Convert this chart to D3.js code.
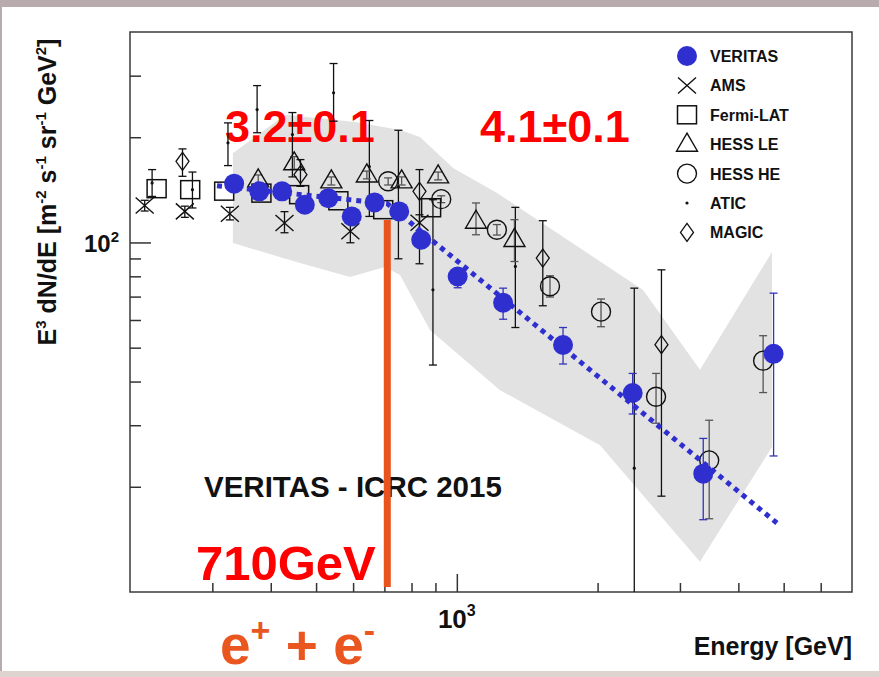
<!DOCTYPE html>
<html>
<head>
<meta charset="utf-8">
<script src="https://cdn.jsdelivr.net/npm/d3@7"></script>
<style>
  body { margin: 0; background: #fff; }
  svg { display: block; font-family: "Liberation Sans", Arial, sans-serif; }
</style>
</head>
<body>
<svg id="canvas" width="879" height="677"></svg>
<script>
// ---------------------------------------------------------------- //
// Data (energy in GeV, E^3 dN/dE)

var veritas_E  = [334, 378, 423, 473, 531, 596, 667, 753, 839, 1004, 1256, 1687, 2377, 3365, 4758];
var veritas_F  = [147.3, 140, 140, 128.2, 133.9, 118.7, 130.2, 122.7, 101.8, 79.9, 67.2, 50.9, 37.1, 21.8, 48.0];
var veritas_lo = [143, 136, 136, 124, 130, 115, 126, 118, 97, 74.2, 60.3, 44.9, 32.3, 16.1, 24.5];
var veritas_hi = [152, 144, 144, 132, 138, 122, 134, 127, 107, 83.5, 74.0, 57.1, 42.2, 27.5, 71.6];

var ams_E  = [215, 262, 327, 428, 592, 832];
var ams_F  = [127.6, 122.7, 120.8, 113.6, 107.7, 113.9];
var ams_lo = [123, 118, 116, 106.6, 99.8, 108];
var ams_hi = [132, 127, 126, 122.5, 114, 120];

var fermi_E = [228, 269, 318, 382, 460, 558, 696, 881];
var fermi_F = [142.5, 141.6, 140.2, 138.4, 137, 131.6, 124.1, 125.7];

var hessLE_E  = [376, 449, 539, 642, 762, 912, 1099, 1328];
var hessLE_F  = [151, 169, 150, 156, 150, 155, 115, 102];
var hessLE_lo = [146, 162, 146, 152, 146, 151, 105.2, 88.2];
var hessLE_hi = [156, 176, 154, 160, 154, 159, 129.7, 116.2];

var hessHE_E  = [713, 926, 1218, 1582, 2034, 2667, 3465, 4519];
var hessHE_F  = [149.6, 133, 108.7, 74.9, 63.4, 36.2, 23.8, 45.9];
var hessHE_lo = [146, 130, 105, 69.8, 57.4, 30.4, 16.2, 37.2];
var hessHE_hi = [153, 136, 112.5, 80.3, 68.9, 42.2, 31.0, 54.1];

var atic_E  = [223, 272, 324, 374, 445, 545, 650, 750, 889, 1334, 2396];
var atic_F  = [148, 141.6, 192.7, 240, 203.5, 268, 164.8, 144.4, 73.2, 85.4, 22.6];
var atic_lo = [135.4, 125.5, 165.9, 206, 154, 222.3, 118.7, 89.8, 44.6, 57.1, 8];
var atic_hi = [161.6, 159, 219.8, 281, 235.3, 325, 223.3, 209.4, 132.5, 126, 74.0];

var magic_E  = [259, 463, 832, 1527, 2739];
var magic_F  = [170.7, 156.3, 140, 90.2, 51.0];
var magic_lo = [154.6, 144.7, 86.9, 65.9, 18.8];
var magic_hi = [185.2, 172.6, 161.6, 115.4, 83.5];

// broken power-law fit (start, break, end)
var fit_E = [307, 710, 4850];
var fit_F = [145.3, 129.1, 15.7];

// systematic band outline
var band_E = [332, 430, 606, 756, 834, 982, 1219, 2502, 3311, 4721, 4721, 3311, 2024, 1237, 876, 756, 702, 591, 462, 332];
var band_F = [180, 232, 221, 209.6, 200.2, 163.2, 138.5, 73.1, 43.2, 93.9, 26.0, 12.2, 26.3, 37.8, 56.2, 80.7, 85.0, 79.6, 87.3, 99.6];

var break_E = 710;

var legend_names = ['VERITAS', 'AMS', 'Fermi-LAT', 'HESS LE', 'HESS HE', 'ATIC', 'MAGIC'];
var y_major = [100], y_minor = [20, 30, 40, 50, 60, 70, 80, 90, 200, 300];
var x_major = [1000], x_minor = [300, 400, 500, 600, 700, 800, 900, 2000, 3000, 4000, 5000, 6000];

// ---------------------------------------------------------------- //
// Setup

var svg = d3.select('#canvas');
var frame = { left: 130, right: 852, top: 32, bottom: 592 };

var x = d3.scaleLog().domain([200, 7000]).range([frame.left, frame.right]);
var y = d3.scaleLog().domain([10, 400]).range([frame.bottom, frame.top]);

var blue = '#2f2fcf';

svg.append('rect').attr('width', 879).attr('height', 677).attr('fill', '#fff');
svg.append('rect').attr('width', 879).attr('height', 7).attr('fill', '#b9aaae');
svg.append('rect').attr('width', 2).attr('height', 677).attr('fill', '#b9aaae');
svg.append('rect').attr('y', 671).attr('width', 879).attr('height', 6).attr('fill', '#ddd3cf');

// band
var band_pts = band_E.map((d, i) => [x(d), y(band_F[i])]);
svg.append('path').attr('d', d3.line()(band_pts) + 'Z').attr('fill', '#e2e2e2');

// frame + axes
svg.append('rect').attr('x', frame.left).attr('y', frame.top)
  .attr('width', frame.right - frame.left).attr('height', frame.bottom - frame.top)
  .attr('fill', 'none').attr('stroke', '#3a3a3a').attr('stroke-width', 1.5);

function drawAxis(axis, tx, ty){
  var g = svg.append('g').attr('transform', 'translate(' + tx + ',' + ty + ')').call(axis);
  g.select('.domain').remove();
  g.selectAll('line').attr('stroke', '#333').attr('stroke-width', 1.5);
  return g;
}
drawAxis(d3.axisLeft(y).tickValues(y_major).tickSize(-21).tickFormat(''), frame.left, 0);
drawAxis(d3.axisLeft(y).tickValues(y_minor).tickSize(-11).tickFormat(''), frame.left, 0);
drawAxis(d3.axisBottom(x).tickValues(x_major).tickSize(-18).tickFormat(''), 0, frame.bottom);
drawAxis(d3.axisBottom(x).tickValues(x_minor).tickSize(-9).tickFormat(''), 0, frame.bottom);

// tick labels
var yl = svg.append('text').attr('x', 119).attr('y', y(100) + 10).attr('text-anchor', 'end')
  .attr('font-size', 24).attr('font-weight', 'bold').attr('fill', '#111');
yl.append('tspan').text('10');
yl.append('tspan').attr('font-size', 15).attr('dy', -10).text('2');

var xl = svg.append('text').attr('x', x(1000)).attr('y', 628).attr('text-anchor', 'middle')
  .attr('font-size', 26).attr('font-weight', 'bold').attr('fill', '#111');
xl.append('tspan').text('10');
xl.append('tspan').attr('font-size', 16).attr('dy', -12).text('3');

svg.append('text').attr('x', frame.right).attr('y', 655).attr('text-anchor', 'end')
  .attr('font-size', 25).attr('font-weight', 'bold').attr('fill', '#111').text('Energy [GeV]');

// y title
var yt = svg.append('text').attr('transform', 'translate(56,192) rotate(-90)').attr('text-anchor', 'middle')
  .attr('font-size', 25).attr('font-weight', 'bold').attr('fill', '#111');
[['E', 0], ['3', 1], [' dN/dE [m', 0], ['-2', 1], [' s', 0], ['-1', 1], [' sr', 0], ['-1', 1], [' GeV', 0], ['2', 1], [']', 0]]
  .forEach((p, i, arr) => {
    var prev = i > 0 ? arr[i - 1][1] : 0;
    var t = yt.append('tspan').text(p[0]);
    if(p[1] == 1){ t.attr('font-size', 15); if(prev == 0) t.attr('dy', -10); }
    else if(prev == 1){ t.attr('dy', 10); }
  });

// annotation texts
function bigText(tx, ty, size, color, str){
  return svg.append('text').attr('x', tx).attr('y', ty).attr('font-size', size)
    .attr('font-weight', 'bold').attr('fill', color).text(str);
}
bigText(225, 142, 45, '#ff0000', '3.2\u00b10.1');
bigText(480, 142, 45, '#ff0000', '4.1\u00b10.1');
bigText(204, 497, 29.5, '#111', 'VERITAS - ICRC 2015');
bigText(196, 580, 49, '#ff0000', '710GeV');

var ee = svg.append('text').attr('x', 220).attr('y', 664).attr('font-size', 55)
  .attr('font-weight', 'bold').attr('fill', '#e9561f');
ee.append('tspan').text('e');
ee.append('tspan').attr('font-size', 34).attr('dy', -22).text('+');
ee.append('tspan').attr('dy', 22).text(' + e');
ee.append('tspan').attr('font-size', 34).attr('dy', -22).text('-');

// ---------------------------------------------------------------- //
// Markers

function errBars(E, F, lo, hi, color, cap){
  var g = svg.append('g').attr('stroke', color).attr('stroke-width', 1.3);
  E.forEach((e, i) => {
    var cx = x(e), y1 = Math.min(y(lo[i]), frame.bottom), y2 = y(hi[i]);
    g.append('line').attr('x1', cx).attr('x2', cx).attr('y1', y1).attr('y2', y2);
    g.append('line').attr('x1', cx - cap).attr('x2', cx + cap).attr('y1', y2).attr('y2', y2);
    if(y(lo[i]) < frame.bottom) g.append('line').attr('x1', cx - cap).attr('x2', cx + cap).attr('y1', y1).attr('y2', y1);
  });
}

function marker(g, kind, cx, cy){
  if(kind == 'VERITAS') g.append('circle').attr('cx', cx).attr('cy', cy).attr('r', 10).attr('fill', blue);
  if(kind == 'AMS'){
    g.append('path').attr('d', 'M' + (cx - 9) + ',' + (cy - 8) + 'L' + (cx + 9) + ',' + (cy + 8) + 'M' + (cx - 9) + ',' + (cy + 8) + 'L' + (cx + 9) + ',' + (cy - 8))
      .attr('stroke', '#111').attr('stroke-width', 1.4).attr('fill', 'none');
  }
  if(kind == 'Fermi-LAT') g.append('rect').attr('x', cx - 9.5).attr('y', cy - 9).attr('width', 19).attr('height', 18)
    .attr('fill', 'none').attr('stroke', '#111').attr('stroke-width', 1.5);
  if(kind == 'HESS LE') g.append('path').attr('d', 'M' + cx + ',' + (cy - 11) + 'L' + (cx + 10.5) + ',' + (cy + 7) + 'L' + (cx - 10.5) + ',' + (cy + 7) + 'Z')
    .attr('fill', 'none').attr('stroke', '#111').attr('stroke-width', 1.4);
  if(kind == 'HESS HE') g.append('circle').attr('cx', cx).attr('cy', cy).attr('r', 9.5)
    .attr('fill', 'none').attr('stroke', '#111').attr('stroke-width', 1.4);
  if(kind == 'ATIC') g.append('circle').attr('cx', cx).attr('cy', cy).attr('r', 1.6).attr('fill', '#111');
  if(kind == 'MAGIC') g.append('path').attr('d', 'M' + cx + ',' + (cy - 9) + 'L' + (cx + 6.5) + ',' + cy + 'L' + cx + ',' + (cy + 9) + 'L' + (cx - 6.5) + ',' + cy + 'Z')
    .attr('fill', 'none').attr('stroke', '#111').attr('stroke-width', 1.3);
}

function series(kind, E, F){
  var g = svg.append('g');
  E.forEach((e, i) => marker(g, kind, x(e), y(F[i])));
}

errBars(atic_E, atic_F, atic_lo, atic_hi, '#111', 4);
errBars(ams_E, ams_F, ams_lo, ams_hi, '#111', 4);
errBars(magic_E, magic_F, magic_lo, magic_hi, '#111', 4);
errBars(hessLE_E, hessLE_F, hessLE_lo, hessLE_hi, '#555', 4);
errBars(hessHE_E, hessHE_F, hessHE_lo, hessHE_hi, '#555', 4);

series('ATIC', atic_E, atic_F);
series('AMS', ams_E, ams_F);
series('Fermi-LAT', fermi_E, fermi_F);
series('HESS LE', hessLE_E, hessLE_F);
series('HESS HE', hessHE_E, hessHE_F);
series('MAGIC', magic_E, magic_F);

// fit line
svg.append('path').attr('d', d3.line()(fit_E.map((d, i) => [x(d), y(fit_F[i])])))
  .attr('fill', 'none').attr('stroke', blue).attr('stroke-width', 5).attr('stroke-dasharray', '5,5');

errBars(veritas_E, veritas_F, veritas_lo, veritas_hi, '#3434b8', 4);
series('VERITAS', veritas_E, veritas_F);

// break line
svg.append('line').attr('x1', x(break_E)).attr('x2', x(break_E)).attr('y1', 220).attr('y2', 587)
  .attr('stroke', '#e9531d').attr('stroke-width', 7);

// ---------------------------------------------------------------- //
// Legend

var lg = svg.append('g');
legend_names.forEach((name, i) => {
  var ly = 56 + i * 29.4;
  marker(lg, name, 687, ly);
  lg.append('text').attr('x', 710).attr('y', ly + 6).attr('font-size', 16).attr('font-weight', 'bold')
    .attr('fill', '#111').text(name);
});
</script>
</body>
</html>
